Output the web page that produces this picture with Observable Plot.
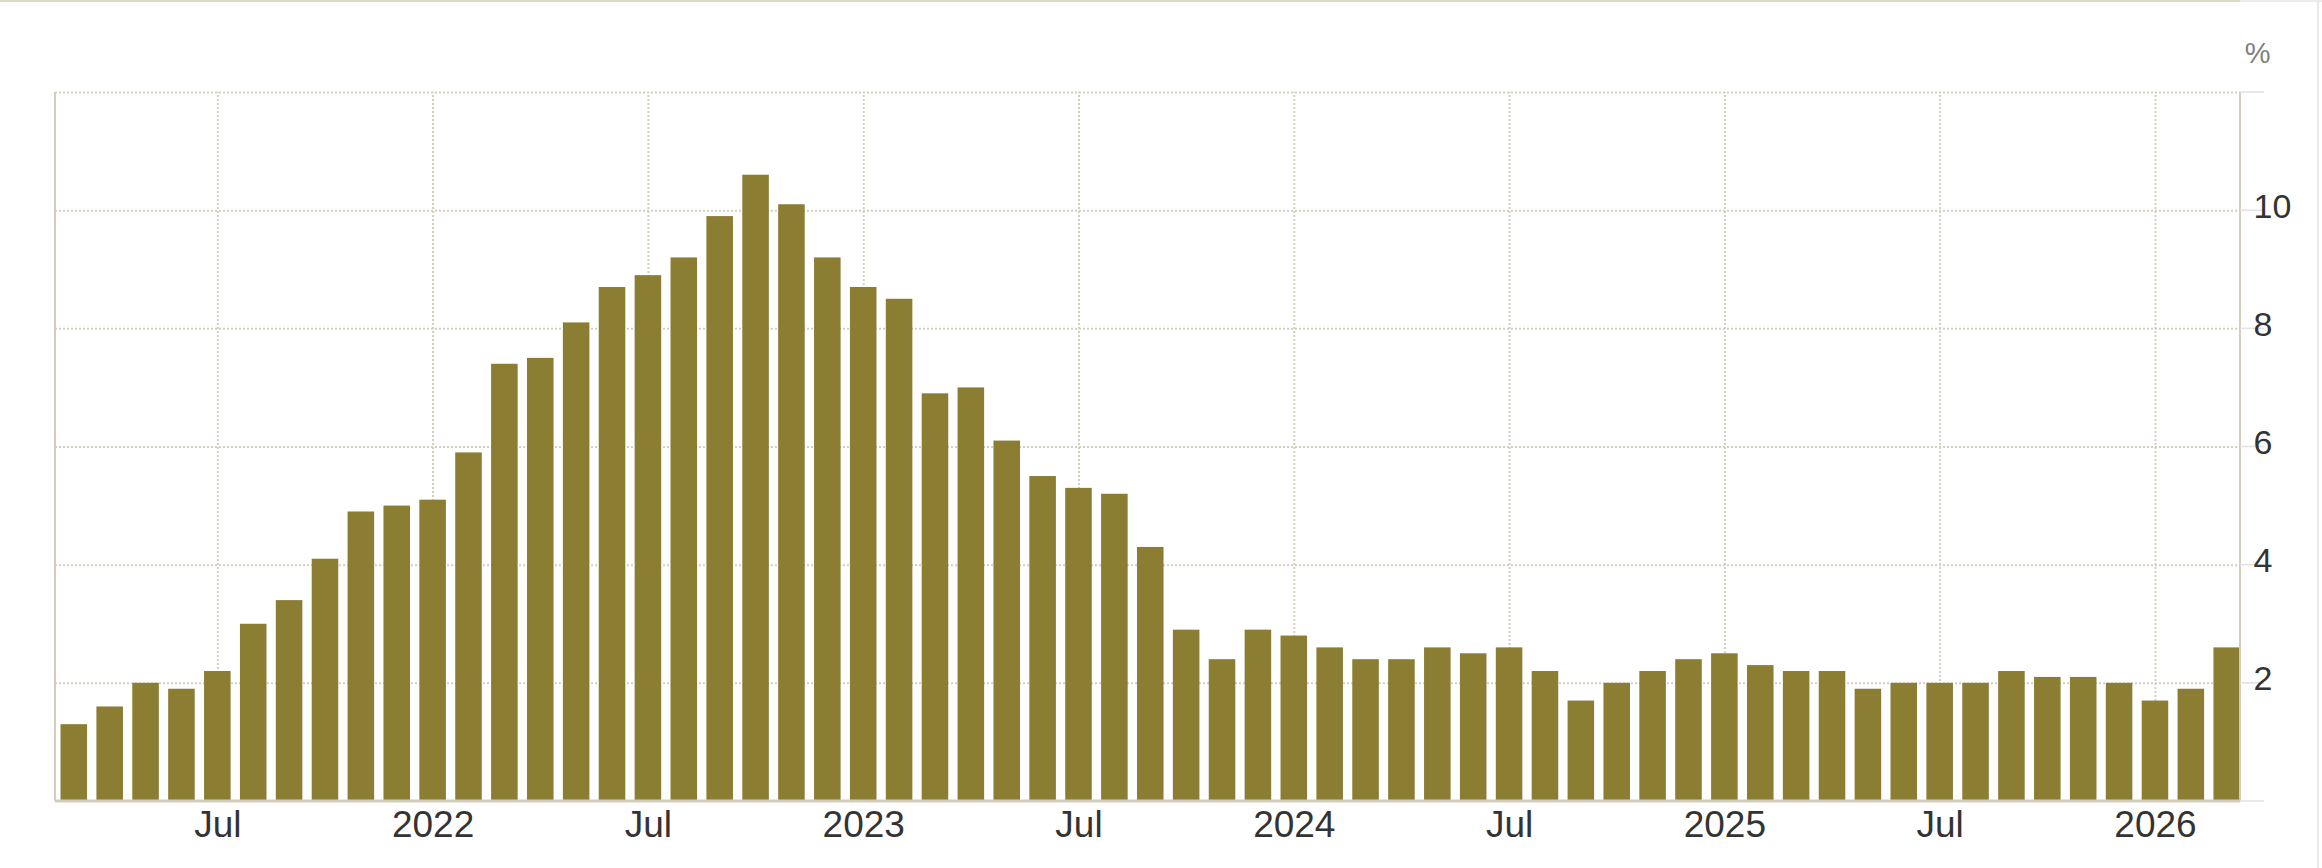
<!DOCTYPE html>
<html><head><meta charset="utf-8">
<script src="https://cdn.jsdelivr.net/npm/d3@7"></script>
<script src="https://cdn.jsdelivr.net/npm/@observablehq/plot@0.6"></script>
<style>body{margin:0;background:#fff} #chart svg{display:block}</style>
</head><body><div id="chart"></div>
<script>
const months = d3.utcMonth.range(new Date(Date.UTC(2021, 2, 1)), new Date(Date.UTC(2026, 3, 1))).map(d => d3.utcFormat("%Y-%m")(d));
const values = [
  1.3, 1.6, 2.0, 1.9, 2.2, 3.0, 3.4, 4.1, 4.9, 5.0,
  5.1, 5.9, 7.4, 7.5, 8.1, 8.7, 8.9, 9.2, 9.9, 10.6, 10.1, 9.2,
  8.7, 8.5, 6.9, 7.0, 6.1, 5.5, 5.3, 5.2, 4.3, 2.9, 2.4, 2.9,
  2.8, 2.6, 2.4, 2.4, 2.6, 2.5, 2.6, 2.2, 1.7, 2.0, 2.2, 2.4,
  2.5, 2.3, 2.2, 2.2, 1.9, 2.0, 2.0, 2.0, 2.2, 2.1, 2.1, 2.0,
  1.7, 1.9, 2.6
];
const tickMonths = ["2021-07", "2022-01", "2022-07", "2023-01", "2023-07", "2024-01", "2024-07", "2025-01", "2025-07", "2026-01"];
const tickLabels = ["Jul", "2022", "Jul", "2023", "Jul", "2024", "Jul", "2025", "Jul", "2026"];
const yTickValues = [2, 4, 6, 8, 10];
const yGridValues = [2, 4, 6, 8, 10, 12];
const unitLabel = ["%"];

const data = months.map((m, i) => ({month: m, value: values[i]}));
const labelOf = new Map(tickMonths.map((m, i) => [m, tickLabels[i]]));

const gridColor = "#d3cfbe", axisColor = "#d3cebb", barColor = "#8b7d32";

function frameLines(index, scales, vals, dim) {
  const {width, height, marginLeft, marginRight, marginTop, marginBottom} = dim;
  const x0 = marginLeft, x1 = width - marginRight, y0 = marginTop, y1 = height - marginBottom;
  const g = d3.create("svg:g");
  g.append("line").attr("x1", 0).attr("x2", x1).attr("y1", 1).attr("y2", 1)
    .attr("stroke", "#dcd8c6").attr("stroke-width", 2);
  g.append("line").attr("x1", x1).attr("x2", width).attr("y1", 1).attr("y2", 1)
    .attr("stroke", "#ececec").attr("stroke-width", 2);
  g.append("line").attr("x1", width - 4).attr("x2", width - 4).attr("y1", 0).attr("y2", height)
    .attr("stroke", "#e8e8e8").attr("stroke-width", 2);
  g.append("line").attr("x1", x0).attr("x2", x0).attr("y1", y0).attr("y2", y1)
    .attr("stroke", axisColor).attr("stroke-width", 2);
  g.append("line").attr("x1", x1).attr("x2", x1).attr("y1", y0).attr("y2", y1)
    .attr("stroke", axisColor).attr("stroke-width", 2);
  for (const v of [0, ...yGridValues]) {
    const y = scales.y(v);
    g.append("line").attr("x1", x1).attr("x2", x1 + 24).attr("y1", y).attr("y2", y)
      .attr("stroke", "#e2e2e2").attr("stroke-width", 1.5);
  }
  g.append("line").attr("x1", x0).attr("x2", x1).attr("y1", y1).attr("y2", y1)
    .attr("stroke", axisColor).attr("stroke-width", 3);
  return g.node();
}

const chart = Plot.plot({
  width: 2322,
  height: 868,
  marginLeft: 55,
  marginRight: 82,
  marginTop: 92,
  marginBottom: 67,
  style: {fontFamily: "'Liberation Sans', Arial, sans-serif", background: "#fff", overflow: "visible"},
  x: {type: "band", domain: months, paddingInner: 0.26, paddingOuter: 0.077, align: 1, label: null},
  y: {domain: [0, 12], label: null},
  marks: [
    Plot.gridY(yGridValues, {stroke: gridColor, strokeOpacity: 1, strokeWidth: 2, strokeDasharray: "2,2"}),
    Plot.ruleX(tickMonths, {x: d => d, y1: 0, y2: 12, stroke: gridColor, strokeWidth: 2, strokeDasharray: "2,2"}),
    Plot.barY(data, {x: "month", y: "value", fill: barColor}),
    frameLines,
    Plot.axisX(tickMonths, {tickSize: 0, tickPadding: 9, tickFormat: d => labelOf.get(d), fontSize: 37, color: "#333", label: null}),
    Plot.axisY(yTickValues, {anchor: "right", tickSize: 0, tickPadding: 13, tickFormat: d => String(d), fontSize: 34, color: "#333", textAnchor: "start", dy: -4, label: null}),
    Plot.text(unitLabel, {frameAnchor: "top-right", text: d => d, dx: 30, dy: -50, fontSize: 29, fill: "#808080"})
  ]
});
document.getElementById("chart").append(chart);
</script>
</body></html>
